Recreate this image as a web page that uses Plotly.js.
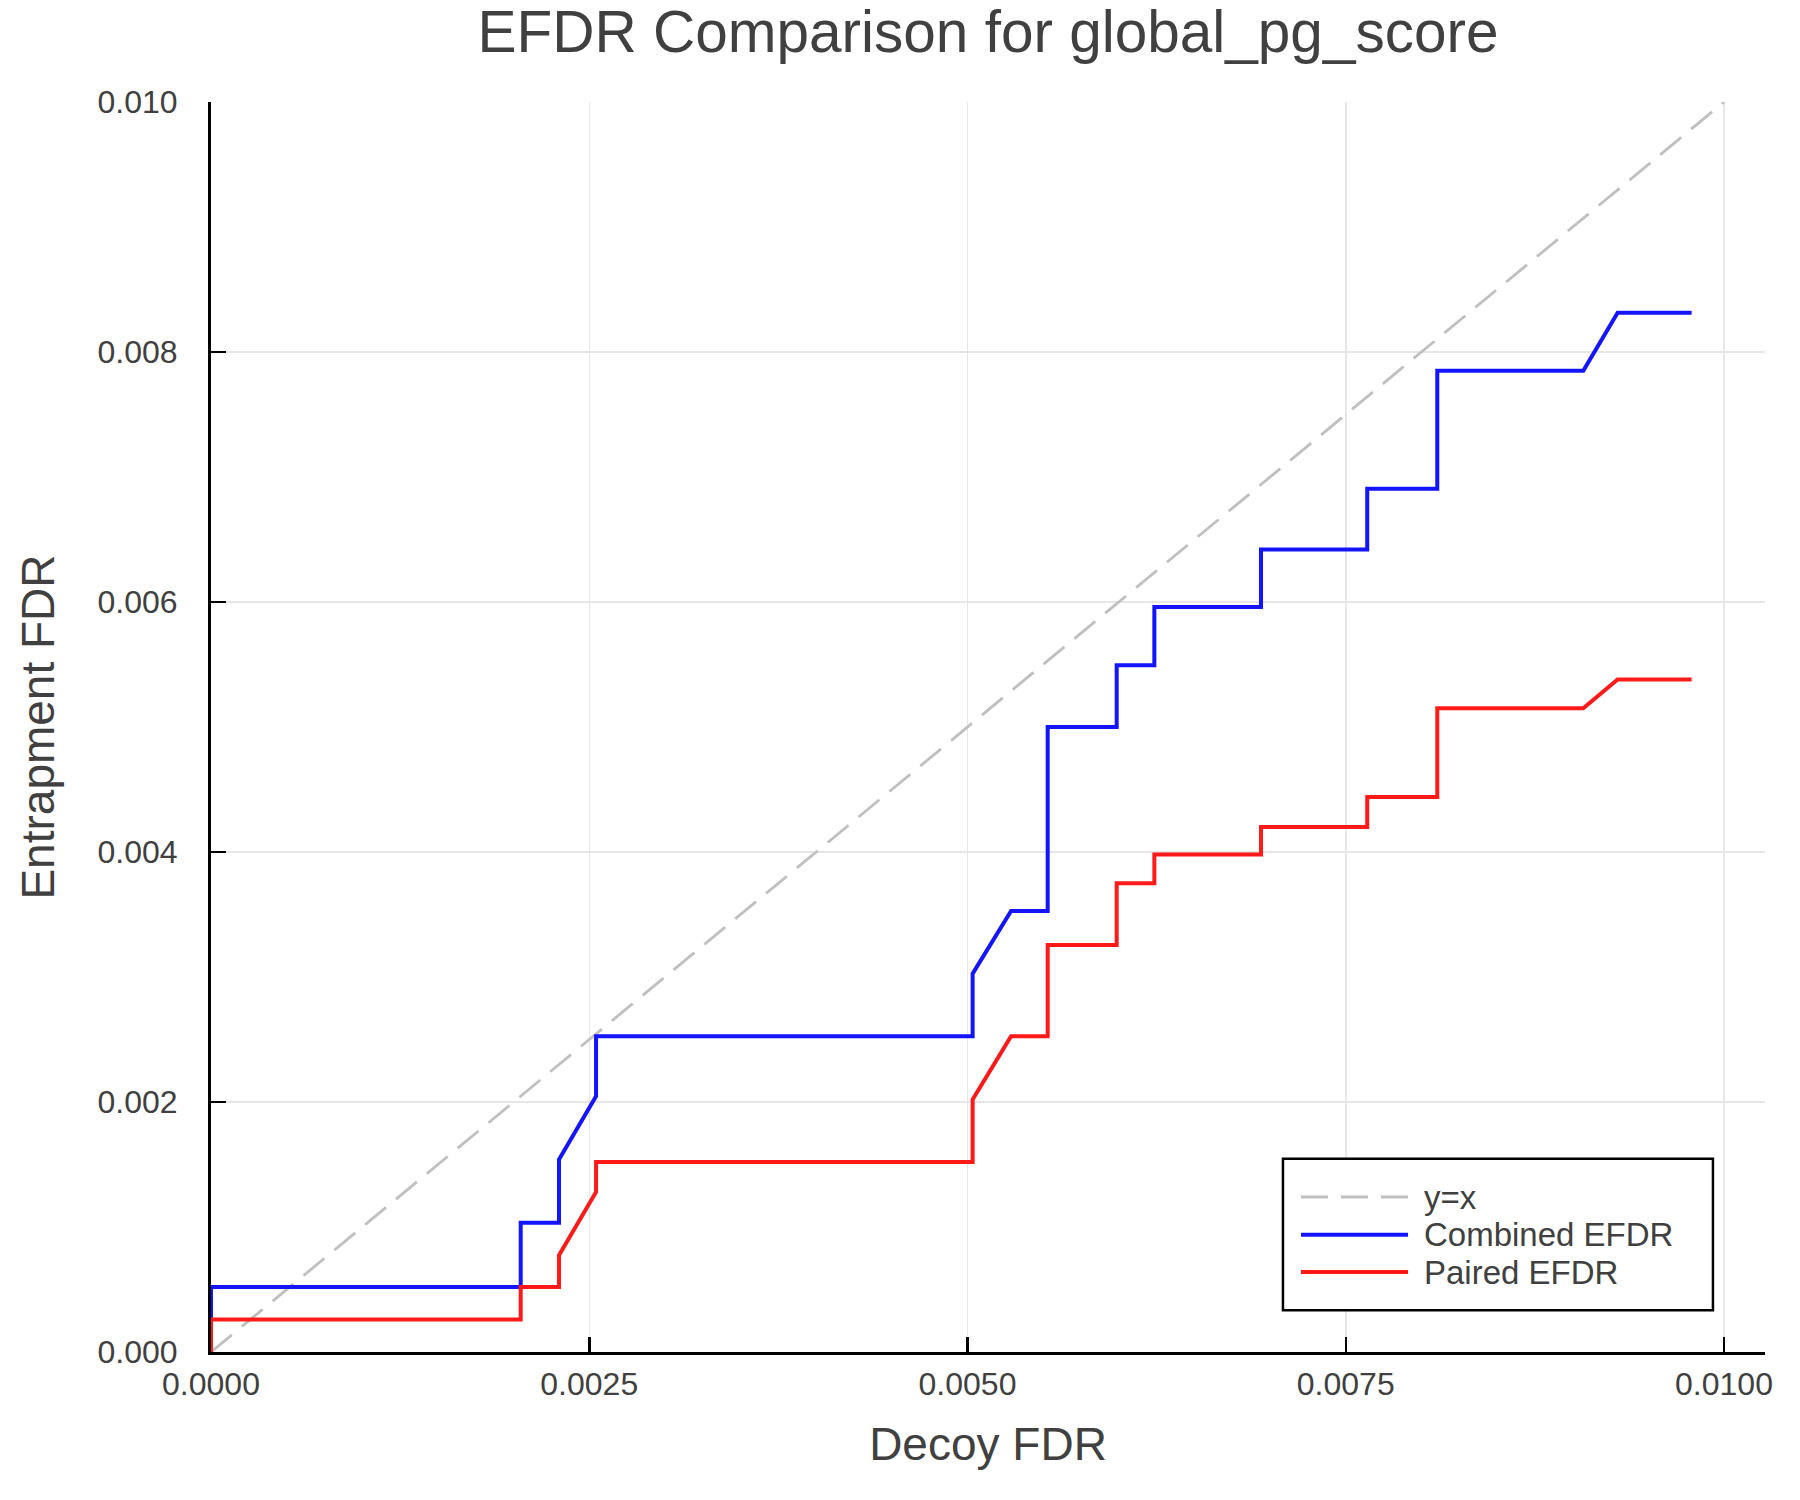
<!DOCTYPE html>
<html>
<head>
<meta charset="utf-8">
<script src="https://cdn.plot.ly/plotly-3.0.1.min.js"></script>
<style>
  html, body { margin: 0; padding: 0; background: #fff; }
  #chart { width: 1800px; height: 1500px; }
</style>
</head>
<body>
<div id="chart"></div>
<script>
// Step curves; each series shares the decoy FDR x values.
// Repeated x values give the vertical jumps of the step plot.
const decoyFdr = [
    0, 0, 0.002047, 0.002047, 0.0023, 0.0023, 0.002545, 0.002545,
    0.005034, 0.005034, 0.005288, 0.00553, 0.00553, 0.005986, 0.005986,
    0.006235, 0.006235, 0.00694, 0.00694, 0.007642, 0.007642,
    0.008105, 0.008105, 0.00907, 0.009297, 0.009786,
];
const combinedEfdr = [
    0, 0.00052, 0.00052, 0.001035, 0.001035, 0.00154, 0.002046, 0.002527,
    0.002527, 0.003027, 0.003528, 0.003528, 0.005, 0.005, 0.005494,
    0.005494, 0.00596, 0.00596, 0.00642, 0.00642, 0.006907,
    0.006907, 0.00785, 0.00785, 0.008315, 0.008315,
];
const pairedEfdr = [
    0, 0.00026, 0.00026, 0.00052, 0.00052, 0.000774, 0.00128, 0.00152,
    0.00152, 0.00202, 0.002526, 0.002526, 0.003256, 0.003256, 0.00375,
    0.00375, 0.00398, 0.00398, 0.0042, 0.0042, 0.00444,
    0.00444, 0.00515, 0.00515, 0.00538, 0.00538,
];
// the y=x reference line
const diagonal = [0, 0.01];

const seriesNames = ['y=x', 'Combined EFDR', 'Paired EFDR'];
const titleText = 'EFDR Comparison for global_pg_score';
const xTitle = 'Decoy FDR';
const yTitle = 'Entrapment FDR';

const FONT = '"Liberation Sans", Arial, Helvetica, sans-serif';
const TEXT = '#404040';

const lineStyles = [
    { color: '#bfbfbf', width: 2.8, dash: '27px,13px' },
    { color: '#1414ff', width: 4 },
    { color: '#ff1a1a', width: 4 },
];

const traces = [
    { type: 'scatter', mode: 'lines', name: seriesNames[0], x: diagonal, y: diagonal, line: lineStyles[0] },
    { type: 'scatter', mode: 'lines', name: seriesNames[1], x: decoyFdr, y: combinedEfdr, line: lineStyles[1] },
    { type: 'scatter', mode: 'lines', name: seriesNames[2], x: decoyFdr, y: pairedEfdr, line: lineStyles[2] },
];

// Plotly's own legend can't pad its box or space the line samples the way
// the GR-style legend does, so it is drawn as shapes + annotations in
// paper coordinates instead.
const legendBox = { x0: 0.6898, x1: 0.9665, y0: 0.0334, y1: 0.1547 };
const legendRows = [0.124, 0.0939, 0.064];
const sampleX = [0.7014, 0.7703];
const labelX = 0.7791;

const shapes = [{
    type: 'rect', xref: 'paper', yref: 'paper',
    x0: legendBox.x0, x1: legendBox.x1, y0: legendBox.y0, y1: legendBox.y1,
    fillcolor: '#fff', line: { color: '#000', width: 2.5 }, layer: 'above',
}];
const annotations = [];
seriesNames.forEach((name, i) => {
    shapes.push({
        type: 'line', xref: 'paper', yref: 'paper',
        x0: sampleX[0], x1: sampleX[1], y0: legendRows[i], y1: legendRows[i],
        line: lineStyles[i], layer: 'above',
    });
    annotations.push({
        xref: 'paper', yref: 'paper', x: labelX, y: legendRows[i],
        xanchor: 'left', yanchor: 'middle', showarrow: false,
        text: name, font: { family: FONT, size: 33, color: TEXT },
    });
});

function axisBase() {
    return {
        showline: true, linecolor: '#000', linewidth: 3,
        ticks: 'inside', ticklen: 15, tickwidth: 2.5, tickcolor: '#000',
        showgrid: true, gridcolor: '#e6e6e6', gridwidth: 1.5,
        zeroline: false,
        tickfont: { family: FONT, size: 32, color: TEXT },
    };
}

const layout = {
    width: 1800, height: 1500,
    paper_bgcolor: '#fff', plot_bgcolor: '#fff',
    font: { family: FONT, color: TEXT },
    margin: { l: 211, r: 35, t: 102, b: 148, pad: 0 },
    title: {
        text: titleText,
        font: { family: FONT, size: 58.5, color: TEXT },
        xref: 'paper', x: 0.5, xanchor: 'center',
        yref: 'container', y: 1 - 32 / 1500, yanchor: 'middle',
    },
    xaxis: Object.assign(axisBase(), {
        range: [0, 0.010271],
        tick0: 0, dtick: 0.0025, tickformat: '.4f',
        ticklabelstandoff: 2,
        title: { text: xTitle, font: { family: FONT, size: 46, color: TEXT }, standoff: 27 },
    }),
    yaxis: Object.assign(axisBase(), {
        range: [0, 0.01],
        tick0: 0, dtick: 0.002, tickformat: '.3f',
        ticklabelstandoff: 24,
        title: { text: yTitle, font: { family: FONT, size: 46, color: TEXT }, standoff: 29 },
    }),
    showlegend: false,
    shapes,
    annotations,
};

Plotly.newPlot('chart', traces, layout, { staticPlot: true, displayModeBar: false });
</script>
</body>
</html>
